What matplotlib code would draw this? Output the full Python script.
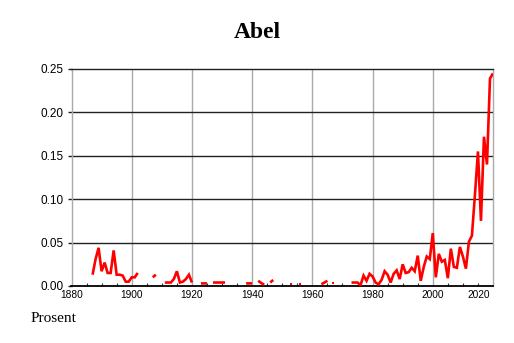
import numpy as np
import matplotlib
matplotlib.use("Agg")
import matplotlib.pyplot as plt
from matplotlib.ticker import MultipleLocator, FixedLocator
import matplotlib.transforms as mtransforms

nan = np.nan
title = "Abel"
ylabel_text = "Prosent"
start_year = 1887
values = [
    # 1887-1902
    0.013, 0.031, 0.044, 0.017, 0.027, 0.015, 0.015, 0.041, 0.013, 0.013,
    0.012, 0.005, 0.005, 0.010, 0.010, 0.015,
    # 1903-1906
    nan, nan, nan, nan,
    # 1907-1908
    0.010, 0.013,
    # 1909-1910
    nan, nan,
    # 1911-1920
    0.004, 0.004, 0.004, 0.008, 0.017, 0.004, 0.005, 0.008, 0.013, 0.004,
    # 1921-1922
    nan, nan,
    # 1923-1925
    0.003, 0.003, 0.003,
    # 1926
    nan,
    # 1927-1931
    0.004, 0.004, 0.004, 0.004, 0.004,
    # 1932-1937
    nan, nan, nan, nan, nan, nan,
    # 1938-1940
    0.003, 0.003, 0.003,
    # 1941
    nan,
    # 1942-1944
    0.006, 0.0035, 0.0015,
    # 1945
    nan,
    # 1946-1947
    0.004, 0.007,
    # 1948-1952
    nan, nan, nan, nan, nan,
    # 1953
    0.002,
    # 1954-1955
    nan, nan,
    # 1956
    0.002,
    # 1957-1962
    nan, nan, nan, nan, nan, nan,
    # 1963-1965
    0.002, 0.004, 0.006,
    # 1966
    nan,
    # 1967
    0.003,
    # 1968-1972
    nan, nan, nan, nan, nan,
    # 1973-1999
    0.004, 0.004, 0.004, 0.001, 0.012, 0.006, 0.014, 0.011, 0.004, 0.002,
    0.007, 0.017, 0.013, 0.004, 0.014, 0.018, 0.008, 0.025, 0.015, 0.016,
    0.021, 0.017, 0.035, 0.006, 0.022, 0.034, 0.031,
    # 2000-2020
    0.061, 0.010, 0.037, 0.028, 0.030, 0.009, 0.043, 0.022, 0.021, 0.045,
    0.034, 0.020, 0.051, 0.058, 0.105, 0.155, 0.075, 0.172, 0.140, 0.239,
    0.245,
]
years = np.arange(start_year, start_year + len(values))
vals = np.array(values, dtype=float)

x_ticks = [1880, 1900, 1920, 1940, 1960, 1980, 2000, 2020]
y_ticks = [0.00, 0.05, 0.10, 0.15, 0.20, 0.25]

fig = plt.figure(figsize=(5.14, 3.43), dpi=100)
ax = fig.add_axes([71.5/514, 57/343, (493-71.5)/514, (286-69)/343])

# grid
for x in x_ticks[1:-1]:
    ax.axvline(x, color="#aaaaaa", lw=1.0, zorder=1)
for y in y_ticks[1:-1]:
    ax.axhline(y, color="#222222", lw=1.0, zorder=1)

ax.plot(years, vals, color="#ff0000", lw=1.9, solid_capstyle="butt",
        solid_joinstyle="miter", zorder=3)
# isolated points
iso = []
for i, v in enumerate(vals):
    if np.isnan(v):
        continue
    prev_nan = i == 0 or np.isnan(vals[i-1])
    next_nan = i == len(vals)-1 or np.isnan(vals[i+1])
    if prev_nan and next_nan:
        iso.append(i)
ax.plot(years[iso], vals[iso], ls="none", marker="s", ms=2.0,
        color="#ff0000", mew=0, zorder=3)

ax.set_xlim(1880, 2020)
ax.set_ylim(0, 0.25)

ax.xaxis.set_major_locator(FixedLocator(x_ticks))
ax.xaxis.set_minor_locator(MultipleLocator(5))
ax.yaxis.set_major_locator(FixedLocator(y_ticks))
ax.set_xticklabels([str(x) for x in x_ticks], fontsize=7.3, family="Liberation Sans")
ax.set_yticklabels([f"{y:.2f}" for y in y_ticks], fontsize=8.5, family="Liberation Sans")

ax.tick_params(axis="x", which="major", direction="in", length=0, pad=3)
ax.tick_params(axis="x", which="minor", direction="in", length=2.2, width=0.8, color="#333333")
ax.tick_params(axis="y", which="major", direction="out", length=2.8, width=1.0,
               color="#222222", pad=3)

# shift last x label to stay inside
lbls = ax.get_xticklabels()
lbls[-1].set_horizontalalignment("right")
lbls[-1].set_transform(lbls[-1].get_transform() +
                       mtransforms.ScaledTranslation(-3/100, 0, fig.dpi_scale_trans))

for s in ["left", "right"]:
    ax.spines[s].set_color("#aaaaaa")
    ax.spines[s].set_linewidth(1.0)
ax.spines["top"].set_color("#222222")
ax.spines["top"].set_linewidth(1.0)
ax.spines["bottom"].set_color("#000000")
ax.spines["bottom"].set_linewidth(1.3)

fig.text(0.5, 1 - 33/343, title, ha="center", va="center", fontsize=17,
         fontweight="bold", family="Liberation Serif")
fig.text(31/514, 1 - 318/343, ylabel_text, ha="left", va="center", fontsize=11,
         family="Liberation Serif")

fig.savefig("out.png", dpi=100)
